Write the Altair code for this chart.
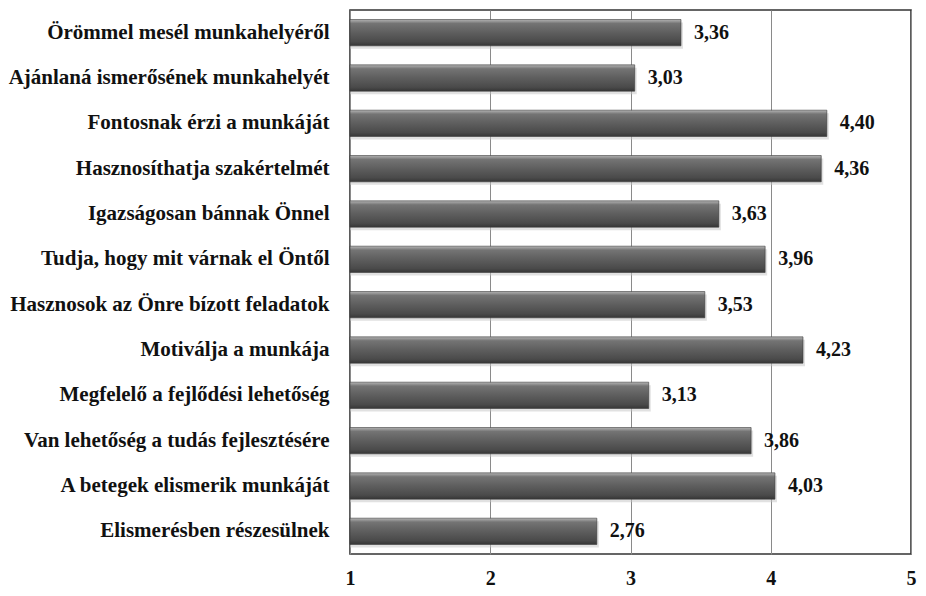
import altair as alt
import pandas as pd

categories = [
    "Örömmel mesél munkahelyéről",
    "Ajánlaná ismerősének munkahelyét",
    "Fontosnak érzi a munkáját",
    "Hasznosíthatja szakértelmét",
    "Igazságosan bánnak Önnel",
    "Tudja, hogy mit várnak el Öntől",
    "Hasznosok az Önre bízott feladatok",
    "Motiválja a munkája ",
    "Megfelelő a fejlődési lehetőség",
    "Van lehetőség a tudás  fejlesztésére",
    "A betegek elismerik munkáját",
    "Elismerésben részesülnek",
]
values = [3.36, 3.03, 4.40, 4.36, 3.63, 3.96, 3.53, 4.23, 3.13, 3.86, 4.03, 2.76]
x_ticks = [1, 2, 3, 4, 5]

df = pd.DataFrame({"cat": categories, "val": values})

FONT = "Liberation Serif"
TXT = "#111111"

xscale = alt.Scale(domain=[1, 5], nice=False, zero=False)

y_enc = alt.Y("cat:N", sort=None, title=None,
              scale=alt.Scale(paddingInner=0.42, paddingOuter=0.21),
              axis=alt.Axis(labelFont=FONT, labelFontSize=21, labelFontWeight="bold",
                            labelColor=TXT, labelPadding=21, ticks=False,
                            domain=False, labelLimit=400))
x_enc = alt.X("val:Q", title=None, scale=xscale,
              axis=alt.Axis(values=x_ticks, format="d", labelFont=FONT, labelFontSize=20,
                            labelFontWeight="bold", labelColor=TXT,
                            labelPadding=14, ticks=False, domain=False,
                            grid=True, gridColor="#8a8a8a", gridWidth=1,
                            labelFlush=False))

gradient = alt.LinearGradient(
    gradient="linear", x1=0, x2=0, y1=0, y2=1,
    stops=[
        alt.GradientStop(color="#b4b4b4", offset=0.0),
        alt.GradientStop(color="#747474", offset=0.15),
        alt.GradientStop(color="#5e5e5e", offset=0.5),
        alt.GradientStop(color="#4a4a4a", offset=0.85),
        alt.GradientStop(color="#363636", offset=1.0),
    ],
)

base = alt.Chart(df)

shadow = base.mark_bar(color="#c4c4c4", opacity=0.5, yOffset=3, xOffset=2).encode(
    x=alt.X("val:Q", scale=xscale),
    x2=alt.datum(1),
    y=alt.Y("cat:N", sort=None),
)

bars = base.mark_bar(color=gradient, stroke="#3a3a3a", strokeWidth=0.6).encode(
    x=x_enc,
    x2=alt.datum(1),
    y=y_enc,
)

labels = base.transform_calculate(
    lab="replace(format(datum.val, '.2f'), '.', ',')"
).mark_text(align="left", baseline="middle", dx=13, font=FONT, fontSize=20,
            fontWeight="bold", color=TXT).encode(
    x="val:Q",
    y=alt.Y("cat:N", sort=None),
    text="lab:N",
)

chart = alt.layer(shadow, bars, labels).properties(
    width=561, height=544,
    background="white",
    autosize=alt.AutoSizeParams(type="none"),
    padding={"left": 342, "top": 2, "right": 7, "bottom": 34},
).configure_view(stroke="#333333", strokeWidth=1.6)

chart.save("out.html", embed_options={"renderer": "svg", "actions": False})
